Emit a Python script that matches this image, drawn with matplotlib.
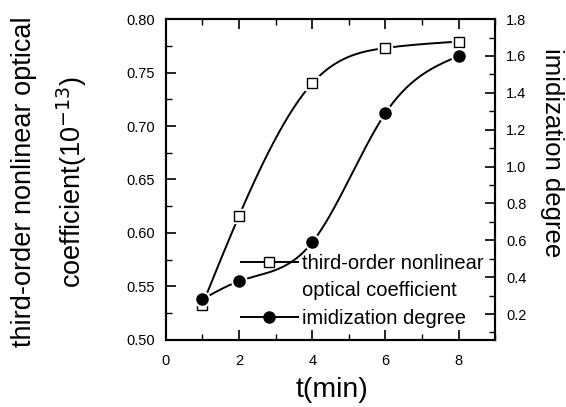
import numpy as np
import matplotlib
matplotlib.use("Agg")
import matplotlib.pyplot as plt
from matplotlib.lines import Line2D
from matplotlib.ticker import MultipleLocator

plt.rcParams['font.family'] = ['Liberation Sans', 'DejaVu Sans']

t = [1, 2, 4, 6, 8]
coef = [0.533, 0.616, 0.740, 0.773, 0.779]
imid = [0.28, 0.378, 0.589, 1.29, 1.60]

def natural_spline(x, y, n=300):
    x = np.asarray(x, float); y = np.asarray(y, float)
    k = len(x); h = np.diff(x)
    A = np.zeros((k, k)); b = np.zeros(k)
    A[0, 0] = A[-1, -1] = 1
    for i in range(1, k - 1):
        A[i, i - 1] = h[i - 1]; A[i, i] = 2 * (h[i - 1] + h[i]); A[i, i + 1] = h[i]
        b[i] = 3 * ((y[i + 1] - y[i]) / h[i] - (y[i] - y[i - 1]) / h[i - 1])
    c = np.linalg.solve(A, b)
    xs = np.linspace(x[0], x[-1], n); ys = np.empty_like(xs)
    for j, xv in enumerate(xs):
        i = min(np.searchsorted(x, xv, side='right') - 1, k - 2)
        dx = xv - x[i]
        bi = (y[i + 1] - y[i]) / h[i] - h[i] * (2 * c[i] + c[i + 1]) / 3
        di = (c[i + 1] - c[i]) / (3 * h[i])
        ys[j] = y[i] + bi * dx + c[i] * dx ** 2 + di * dx ** 3
    return xs, ys

fig = plt.figure(figsize=(5.66, 4.07), dpi=100)
ax = fig.add_axes([0.293, 0.165, 0.582, 0.788])
ax2 = ax.twinx()

LW = 1.4
xs, ys = natural_spline(t, coef)
ax.plot(xs, ys, color='black', lw=LW, zorder=2)
ax.plot(t, coef, ls='none', marker='s', ms=10, mfc='white', mec='white', zorder=3)
ax.plot(t, coef, ls='none', marker='s', ms=7.2, mfc='white', mec='black', mew=1.0, zorder=4)

xs2, ys2 = natural_spline(t, imid)
ax2.plot(xs2, ys2, color='black', lw=LW, zorder=2)
ax2.plot(t, imid, ls='none', marker='o', ms=11, mfc='white', mec='white', zorder=3)
ax2.plot(t, imid, ls='none', marker='o', ms=8, mfc='black', mec='black', zorder=4)

ax.set_xlim(0, 9)
ax.set_ylim(0.50, 0.80)
ax2.set_ylim(0.06, 1.8)
ax.xaxis.set_major_locator(MultipleLocator(2))
ax.xaxis.set_minor_locator(MultipleLocator(1))
ax.yaxis.set_minor_locator(MultipleLocator(0.025))
ax2.yaxis.set_minor_locator(MultipleLocator(0.1))
yt = np.arange(0.50, 0.801, 0.05)
ax.set_yticks(yt)
ax.set_yticklabels(['%.2f' % v for v in yt])
yt2 = np.arange(0.2, 1.81, 0.2)
ax2.set_yticks(yt2)
ax2.set_yticklabels(['%.1f' % v for v in yt2])

ax.tick_params(axis='x', which='both', direction='in', top=True, labelsize=10.5, pad=10)
ax.tick_params(axis='y', which='both', direction='in', right=False, labelsize=10.5, pad=8)
ax2.tick_params(axis='y', which='both', direction='in', labelsize=10.5, pad=8)
for a in (ax, ax2):
    a.tick_params(which='major', length=7, width=1.2)
    a.tick_params(which='minor', length=4, width=1.0)
    for s in a.spines.values():
        s.set_linewidth(1.5)

fig.text(332 / 566, 1 - 390 / 407, 't(min)', fontsize=20.5, ha='center', va='center')
fig.text(50 / 566, 1 - 182 / 407, 'third-order nonlinear optical\ncoefficient(10$^{-13}$)',
         fontsize=19.5, rotation=90, ha='center', va='center', multialignment='center',
         linespacing=1.65)
fig.text(552 / 566, 1 - 153 / 407, 'imidization degree', fontsize=18.5, rotation=-90,
         ha='center', va='center')

h1 = Line2D([], [], color='black', lw=LW, marker='s', ms=7.2, mfc='white', mec='black')
h0 = Line2D([], [], color='none')
h2 = Line2D([], [], color='black', lw=LW, marker='o', ms=8, mfc='black', mec='black')
ax.legend([h1, h0, h2], ['third-order nonlinear', 'optical coefficient', 'imidization degree'],
          loc='lower right', bbox_to_anchor=(1.0, 0.0), frameon=False, fontsize=14.5,
          handlelength=2.8, handletextpad=0.2, labelspacing=0.42, borderaxespad=0.2)

fig.savefig('out.png', dpi=100)
